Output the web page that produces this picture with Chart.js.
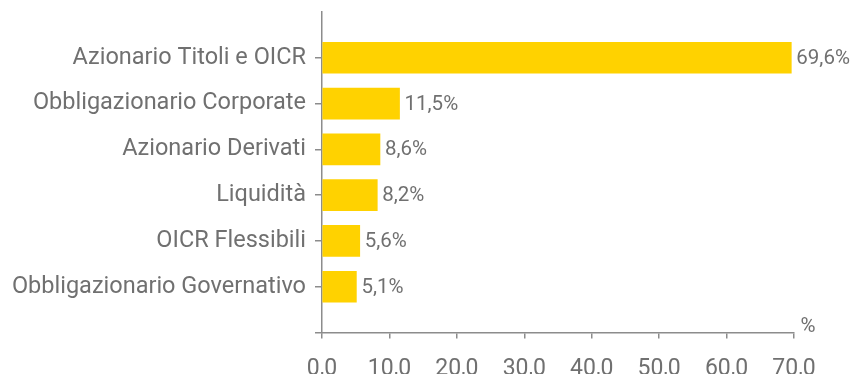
<!DOCTYPE html>
<html>
<head>
<meta charset="utf-8">
<script src="https://cdn.jsdelivr.net/npm/chart.js@4/dist/chart.umd.min.js"></script>
<style>
  html, body { margin: 0; padding: 0; background: #ffffff; }
  #wrap { width: 853px; height: 374px; }
</style>
</head>
<body>
<div id="wrap"><canvas id="c" width="853" height="374"></canvas></div>
<script>
// Asset allocation of the portfolio, in percent
const categories = [
  'Azionario Titoli e OICR',
  'Obbligazionario Corporate',
  'Azionario Derivati',
  'Liquidità',
  'OICR Flessibili',
  'Obbligazionario Governativo'
];
const shares = [69.6, 11.5, 8.6, 8.2, 5.6, 5.1];
const xTickValues = [0, 10, 20, 30, 40, 50, 60, 70];
const unitLabel = '%';

const FONT = 'Roboto';
const TEXT = '#707070';
const AXIS = '#8c8c8c';
const BAR = '#FFD200';

const fmt = (v, d) => v.toFixed(d).replace('.', ',');

// one empty slot above and below the categories keeps the spacing of the axis
const labels = [''].concat(categories, ['']);
const values = [null].concat(shares, [null]);

const valueLabels = {
  id: 'valueLabels',
  afterDatasetsDraw(chart) {
    const ctx = chart.ctx;
    const meta = chart.getDatasetMeta(0);
    ctx.save();
    ctx.font = '400 20.5px ' + FONT;
    ctx.fillStyle = TEXT;
    ctx.textAlign = 'left';
    ctx.textBaseline = 'middle';
    meta.data.forEach((bar, i) => {
      const v = values[i];
      if (v === null) return;
      ctx.fillText(fmt(v, 1) + '%', bar.x + 5, bar.y + 1);
    });
    // unit next to the end of the value axis
    const xs = chart.scales.x;
    ctx.font = '400 20.5px ' + FONT;
    ctx.textAlign = 'center';
    ctx.textBaseline = 'alphabetic';
    ctx.fillText(unitLabel, xs.right + 14, xs.top - 1);
    ctx.restore();
  }
};

new Chart(document.getElementById('c'), {
  type: 'bar',
  data: {
    labels: labels,
    datasets: [{
      data: values,
      backgroundColor: BAR,
      borderWidth: 0,
      barThickness: 31
    }]
  },
  options: {
    indexAxis: 'y',
    responsive: false,
    animation: false,
    layout: { padding: { top: 12, right: 59, bottom: 0, left: 0 } },
    plugins: {
      legend: { display: false },
      tooltip: { enabled: false }
    },
    scales: {
      y: {
        type: 'category',
        offset: false,
        grid: {
          offset: false,
          drawOnChartArea: false,
          drawTicks: true,
          tickLength: 7,
          lineWidth: 1.5,
          color: (c) => (c.index === 0 ? 'rgba(0,0,0,0)' : AXIS)
        },
        border: { display: true, color: AXIS, width: 1.5 },
        ticks: {
          autoSkip: false,
          padding: 9,
          color: TEXT,
          font: { family: FONT, size: 23.5, weight: 400 }
        },
        afterFit(scale) {
          scale.width = 322;
          scale.paddingTop = 0;
          scale.paddingBottom = 0;
        }
      },
      x: {
        type: 'linear',
        min: 0,
        max: 70,
        afterBuildTicks(scale) {
          scale.ticks = xTickValues.map(v => ({ value: v }));
        },
        grid: {
          drawOnChartArea: false,
          drawTicks: true,
          tickLength: 6,
          lineWidth: 1.5,
          color: AXIS
        },
        border: { display: true, color: AXIS, width: 1.5 },
        ticks: {
          padding: 17,
          color: TEXT,
          maxRotation: 0,
          font: { family: FONT, size: 23, weight: 400 },
          callback: (v) => fmt(v, 1)
        },
        afterFit(scale) { scale.height = 41.5; }
      }
    }
  },
  plugins: [valueLabels]
});
</script>
</body>
</html>
